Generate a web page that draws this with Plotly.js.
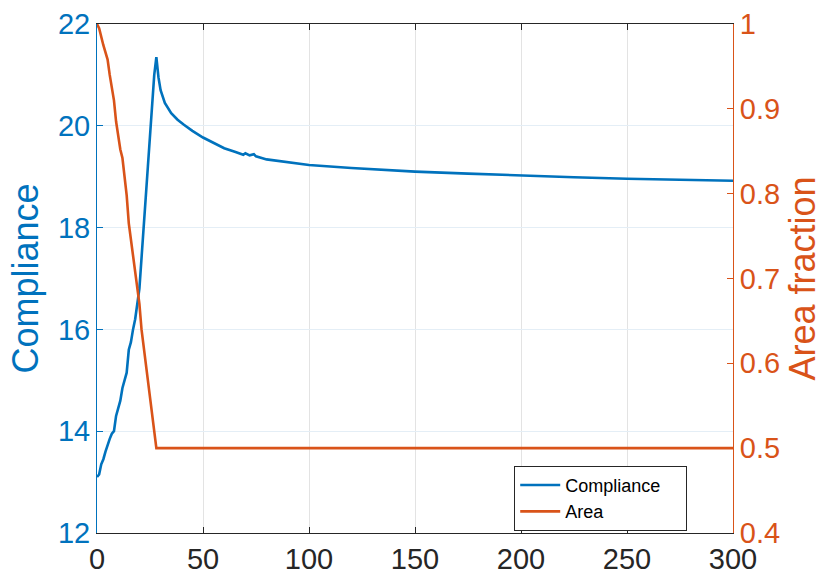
<!DOCTYPE html>
<html>
<head>
<meta charset="utf-8">
<script src="https://cdn.plot.ly/plotly-3.0.1.min.js"></script>
<style>html,body{margin:0;padding:0;background:#fff;}#chart{width:838px;height:583px;}</style>
</head>
<body>
<div id="chart"></div>
<script>
// Compliance series (iteration, value)
const complianceX = [0, 1, 2, 3, 4, 5, 6, 7, 8, 9, 10, 11, 12, 13, 14, 15, 16, 17, 18, 19, 20, 21, 22, 23, 24, 25, 26, 27, 28,
  29, 30, 32, 35, 38, 41, 45, 50, 55, 60, 65, 68, 69, 70, 72, 74, 75, 80, 90, 100, 120, 142, 150, 175, 200, 225, 250, 275, 300];
const complianceY = [13.10, 13.15, 13.35, 13.45, 13.60, 13.75, 13.85, 13.95, 14.00, 14.30, 14.45, 14.60, 14.85, 15.00, 15.15, 15.60, 15.75, 16.00, 16.20, 16.50, 16.80, 17.40, 18.10, 18.60, 19.20, 19.80, 20.50, 21.00, 21.35,
  20.95, 20.70, 20.45, 20.25, 20.12, 20.02, 19.90, 19.77, 19.66, 19.56, 19.49, 19.45, 19.43, 19.46, 19.42, 19.44, 19.40, 19.34, 19.28, 19.23, 19.17, 19.12, 19.10, 19.06, 19.02, 18.99, 18.96, 18.94, 18.92];

// Area fraction series (iteration, value)
const areaX = [0, 1, 3, 5, 6, 7, 8, 9, 10, 11, 12, 13, 14, 15, 16, 17, 18, 19, 20, 21, 22, 23, 24, 25, 26, 27, 28,
  40, 60, 80, 100, 130, 160, 190, 220, 250, 280, 300];
const areaY = [1.000, 0.995, 0.975, 0.958, 0.940, 0.925, 0.910, 0.885, 0.866, 0.852, 0.842, 0.820, 0.798, 0.765, 0.745, 0.728, 0.710, 0.688, 0.670, 0.640, 0.620, 0.595, 0.575, 0.555, 0.535, 0.515, 0.500,
  0.500, 0.500, 0.5003, 0.500, 0.500, 0.5003, 0.500, 0.500, 0.5003, 0.500, 0.500];

const seriesNames = ['Compliance', 'Area'];
const xTicks = [0, 50, 100, 150, 200, 250, 300];
const yTicks = [12, 14, 16, 18, 20, 22];
const y2Ticks = [0.4, 0.5, 0.6, 0.7, 0.8, 0.9, 1];
const y2Labels = ['0.4', '0.5', '0.6', '0.7', '0.8', '0.9', '1'];

const blue = '#0072BD';
const orange = '#D95319';
const pad = '\u00a0\u00a0\u00a0\u00a0';

const traces = [
  {x: complianceX, y: complianceY, type: 'scatter', mode: 'lines', name: seriesNames[0] + pad,
   line: {color: blue, width: 2.6}, yaxis: 'y'},
  {x: areaX, y: areaY, type: 'scatter', mode: 'lines', name: seriesNames[1],
   line: {color: orange, width: 2.6}, yaxis: 'y2'}
];

const layout = {
  width: 838, height: 583,
  margin: {l: 97, r: 105, t: 24, b: 50, pad: 0},
  paper_bgcolor: '#fff', plot_bgcolor: '#fff',
  font: {family: 'Liberation Sans, Arial, sans-serif'},
  showlegend: true,
  legend: {x: 0.656, y: 0.132, xanchor: 'left', yanchor: 'top',
    bgcolor: '#fff', bordercolor: '#262626', borderwidth: 1,
    font: {size: 18, color: '#000'}, tracegroupgap: 0, itemwidth: 40},
  xaxis: {range: [0, 300], tickvals: xTicks, ticktext: xTicks.map(String),
    ticks: 'inside', ticklen: 6, tickcolor: '#262626', showline: true, linecolor: '#262626', linewidth: 1,
    mirror: 'ticks', showgrid: true, gridcolor: '#e3e3e3', gridwidth: 1, zeroline: false,
    tickfont: {size: 29, color: '#262626'}},
  yaxis: {range: [12, 22], tickvals: yTicks, ticktext: yTicks.map(String),
    ticks: 'inside', ticklen: 6, tickcolor: blue, showline: true, linecolor: blue, linewidth: 1,
    showgrid: true, gridcolor: '#e4eef6', gridwidth: 1, zeroline: false,
    tickfont: {size: 29, color: blue},
    title: {text: 'Compliance', font: {size: 36, color: blue}, standoff: 8}},
  yaxis2: {range: [0.4, 1], overlaying: 'y', side: 'right', tickvals: y2Ticks, ticktext: y2Labels,
    ticks: 'inside', ticklen: 6, tickcolor: orange, showline: true, linecolor: orange, linewidth: 1,
    showgrid: false, zeroline: false,
    tickfont: {size: 29, color: orange},
    title: {text: 'Area fraction', font: {size: 36, color: orange}, standoff: 10}}
};

Plotly.newPlot('chart', traces, layout, {displayModeBar: false, staticPlot: true});
</script>
</body>
</html>
